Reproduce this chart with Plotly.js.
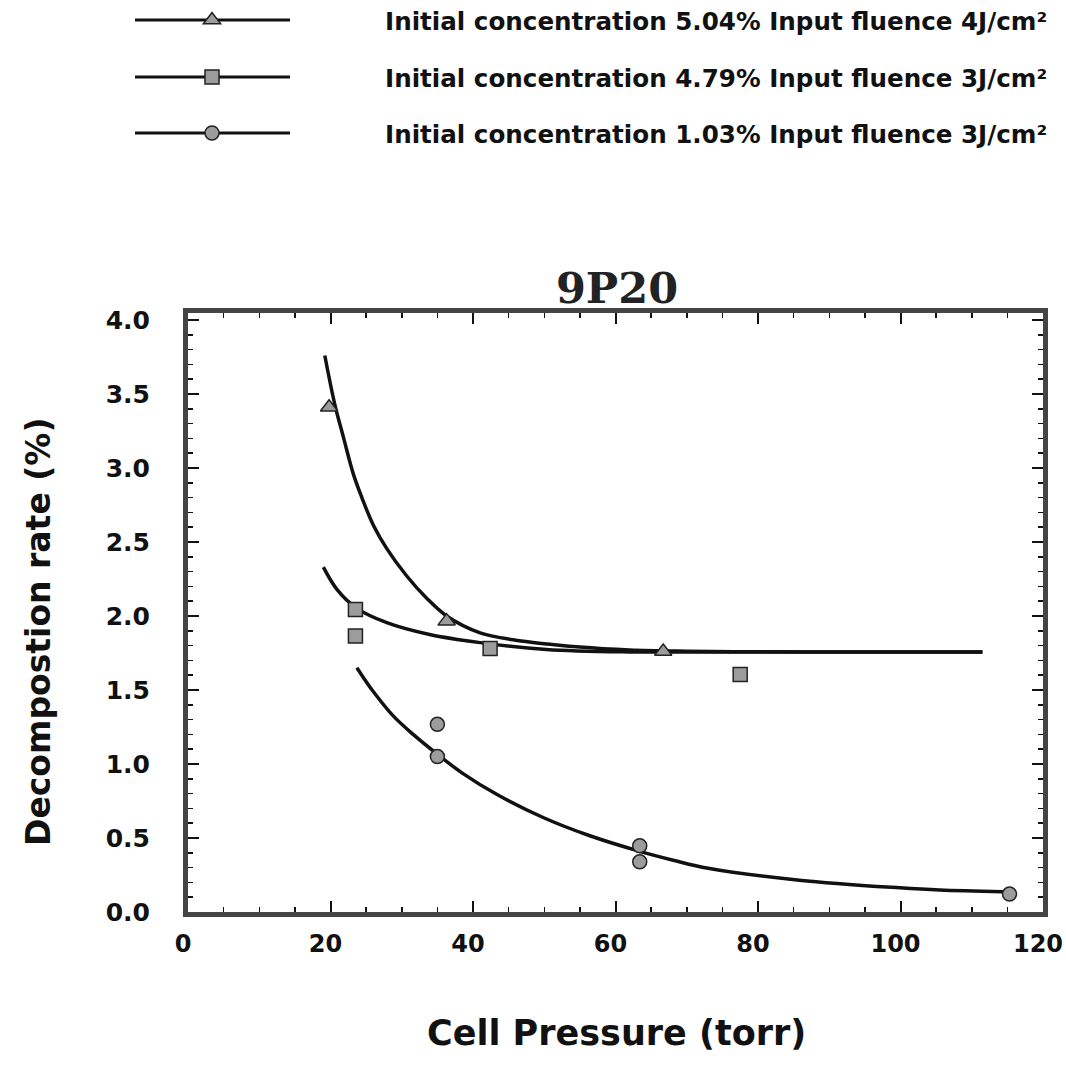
<!DOCTYPE html>
<html>
<head>
<meta charset="utf-8">
<script src="https://cdn.plot.ly/plotly-3.0.1.min.js"></script>
<style>html,body{margin:0;padding:0;background:#fff;}#chart{width:1066px;height:1070px;}</style>
</head>
<body>
<div id="chart"></div>
<script>
// ---- data ----
var chartTitle = '9P20';
var xTitle = 'Cell Pressure (torr)';
var yTitle = 'Decompostion rate (%)';
var seriesNames = [
  'Initial concentration 5.04% Input fluence 4J/cm²',
  'Initial concentration 4.79% Input fluence 3J/cm²',
  'Initial concentration 1.03% Input fluence 3J/cm²'
];
// measured points
var pressureA = [19.8, 36.3, 66.7];
var rateA     = [3.41, 1.965, 1.76];
var pressureB = [23.5, 23.5, 42.4, 77.5];
var rateB     = [2.044, 1.864, 1.78, 1.605];
var pressureC = [35.0, 35.0, 63.4, 63.4, 115.3];
var rateC     = [1.268, 1.05, 0.447, 0.339, 0.121];
// fitted curves
var fitAx = [19.2, 20.6, 21.8, 23.2, 24.4, 26.0, 27.9, 30.7, 33.5, 36.3, 41.0, 45.6, 55.0, 62.0, 70.0, 80.0, 90.0, 100.0, 111.5];
var fitAy = [3.76, 3.43, 3.21, 2.96, 2.80, 2.615, 2.455, 2.27, 2.12, 2.0, 1.886, 1.84, 1.79, 1.77, 1.762, 1.758, 1.757, 1.756, 1.756];
var fitBx = [19.0, 20.9, 23.6, 27.9, 33.9, 41.0, 50.3, 62.0, 70.0, 80.0, 90.0, 100.0, 111.5];
var fitBy = [2.33, 2.18, 2.055, 1.955, 1.875, 1.82, 1.774, 1.757, 1.756, 1.756, 1.756, 1.756, 1.756];
var fitCx = [23.7, 24.6, 26.0, 28.8, 31.6, 35.0, 38.6, 43.5, 50.0, 56.4, 63.4, 68.1, 73.0, 85.8, 99.9, 105.5, 114.4];
var fitCy = [1.65, 1.585, 1.49, 1.325, 1.20, 1.066, 0.935, 0.79, 0.635, 0.515, 0.41, 0.35, 0.295, 0.215, 0.163, 0.148, 0.136];
var xTickVals = [0, 20, 40, 60, 80, 100, 120];
var yTickVals = [0, 0.5, 1, 1.5, 2, 2.5, 3, 3.5, 4];

// ---- styling ----
var ink = '#111';
var yTickFont = {family: 'DejaVu Sans', size: 25, color: ink, weight: 'bold'};
var xTickFont = {family: 'DejaVu Sans', size: 24, color: ink, weight: 'bold'};
var axisTitleFont = {family: 'DejaVu Sans', size: 33, color: ink, weight: 'bold'};
var markerFill = '#9c9c9c';
var markerEdge = {color: '#222', width: 1.5};
var lineStyle = {color: ink, width: 3.5, shape: 'spline', smoothing: 1};

var traces = [
  {x: fitAx, y: fitAy, mode: 'lines', line: lineStyle, showlegend: false, hoverinfo: 'skip'},
  {x: fitBx, y: fitBy, mode: 'lines', line: lineStyle, showlegend: false, hoverinfo: 'skip'},
  {x: fitCx, y: fitCy, mode: 'lines', line: lineStyle, showlegend: false, hoverinfo: 'skip'},
  {x: pressureA, y: rateA, name: seriesNames[0], mode: 'markers',
   marker: {symbol: 'triangle-up', size: 15, color: markerFill, line: markerEdge}, legend: 'legend'},
  {x: pressureB, y: rateB, name: seriesNames[1], mode: 'markers',
   marker: {symbol: 'square', size: 14, color: markerFill, line: markerEdge}, legend: 'legend2'},
  {x: pressureC, y: rateC, name: seriesNames[2], mode: 'markers',
   marker: {symbol: 'circle', size: 14, color: markerFill, line: markerEdge}, legend: 'legend3'}
];

var W = 1066, H = 1070;
var L = 188, R = 1043, T = 313, B = 912;
function px2paperX(px) { return (px - L) / (R - L); }
function py2paperY(py) { return (B - py) / (B - T); }

var legendFont = {family: 'DejaVu Sans', size: 24.6, color: ink, weight: 'bold'};
var itemW = 336;
function legendAt(rowY) {
  return {xref: 'container', yref: 'container', x: (212 - itemW / 2 - 5) / W, y: 1 - rowY / H,
          xanchor: 'left', yanchor: 'middle', bgcolor: 'rgba(0,0,0,0)',
          font: legendFont, itemwidth: itemW, itemclick: false, itemdoubleclick: false};
}
var legendRows = [20, 77, 133];
var shapes = legendRows.map(function (ry) {
  return {type: 'line', xref: 'paper', yref: 'paper', x0: px2paperX(135), x1: px2paperX(290),
          y0: py2paperY(ry), y1: py2paperY(ry), line: {color: ink, width: 3}, layer: 'below'};
});

var annotations = [
  {text: xTitle, xref: 'paper', yref: 'paper', x: px2paperX(616), y: py2paperY(1033),
   xanchor: 'center', yanchor: 'middle', showarrow: false, font: Object.assign({}, axisTitleFont, {size: 35})},
  {text: yTitle, xref: 'paper', yref: 'paper', x: px2paperX(38), y: py2paperY(632),
   xanchor: 'center', yanchor: 'middle', showarrow: false, textangle: -90, font: axisTitleFont}
];

var layout = {
  width: W, height: H,
  paper_bgcolor: '#fff', plot_bgcolor: '#fff',
  margin: {l: L, r: W - R, t: T, b: H - B, pad: 0, autoexpand: false},
  title: {text: chartTitle, font: {family: 'DejaVu Serif', size: 43, color: '#222', weight: 'bold'},
          x: 617 / W, xanchor: 'center', y: 1 - 288 / H, yanchor: 'middle', xref: 'container', yref: 'container'},
  xaxis: {range: [0, 120], tickvals: xTickVals, ticks: 'inside', ticklen: 11, tickwidth: 2, tickcolor: ink,
          showline: true, linewidth: 5, linecolor: '#444', mirror: 'allticks', showgrid: false, zeroline: false,
          tickfont: xTickFont, ticklabelstandoff: 6, ticklabelshift: -5, tickangle: 0, automargin: false,
          ticklabeloverflow: 'allow',
          minor: {dtick: 5, ticks: 'inside', ticklen: 5, tickwidth: 1.5, tickcolor: ink, showgrid: false}},
  yaxis: {range: [0, 4.047], tickvals: yTickVals, tickformat: '.1f', ticks: 'inside', ticklen: 11, tickwidth: 2, tickcolor: ink,
          showline: true, linewidth: 5, linecolor: '#444', mirror: 'allticks', showgrid: false, zeroline: false,
          tickfont: yTickFont, ticklabelstandoff: 28, automargin: false, ticklabeloverflow: 'allow',
          minor: {dtick: 0.1, ticks: 'inside', ticklen: 5, tickwidth: 1.5, tickcolor: ink, showgrid: false}},
  legend: legendAt(legendRows[0]),
  legend2: legendAt(legendRows[1]),
  legend3: legendAt(legendRows[2]),
  shapes: shapes,
  annotations: annotations,
  showlegend: true
};

Plotly.newPlot('chart', traces, layout, {displayModeBar: false, staticPlot: true});
</script>
</body>
</html>
